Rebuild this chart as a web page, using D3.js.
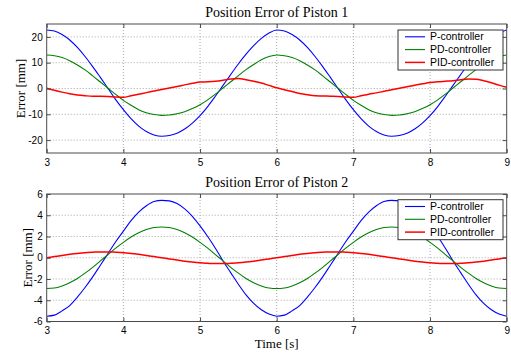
<!DOCTYPE html>
<html>
<head>
<meta charset="utf-8">
<script src="https://cdn.jsdelivr.net/npm/d3@7"></script>
<style>
  html, body { margin: 0; padding: 0; background: #fff; }
  svg { display: block; }
</style>
</head>
<body>
<svg id="chart" width="511" height="356"></svg>
<script>
// ---------- data ----------
const time = [3.0,3.1,3.2,3.3,3.4,3.5,3.6,3.7,3.8,3.9,4.0,4.1,4.2,4.3,4.4,4.5,4.6,4.7,4.8,4.9,5.0,5.1,5.2,5.3,5.4,5.5,5.6,5.7,5.8,5.9,6.0,6.1,6.2,6.3,6.4,6.5,6.6,6.7,6.8,6.9,7.0,7.1,7.2,7.3,7.4,7.5,7.6,7.7,7.8,7.9,8.0,8.1,8.2,8.3,8.4,8.5,8.6,8.7,8.8,8.9,9.0];

const seriesNames = ["P-controller", "PD-controller", "PID-controller"];

// Piston 1
const p1P = [22.7,22.3,20.9,18.8,15.9,12.4,8.5,4.3,0.0,-4.3,-8.2,-11.7,-14.6,-16.7,-18.0,-18.5,-18.2,-17.3,-15.7,-13.4,-10.5,-7.0,-3.0,1.2,5.4,9.5,13.3,16.6,19.4,21.5,22.7,
             22.3,20.9,18.8,15.9,12.4,8.5,4.3,0.0,-4.3,-8.2,-11.7,-14.6,-16.7,-18.0,-18.5,-18.2,-17.3,-15.7,-13.4,-10.5,-7.0,-3.0,1.2,5.4,9.5,13.3,16.6,19.4,21.5,22.7];
const p1PD = [13.0,12.7,12.0,10.8,9.1,7.2,4.9,2.5,0.1,-2.3,-4.6,-6.5,-8.2,-9.4,-10.1,-10.4,-10.3,-9.8,-9.0,-7.8,-6.3,-4.4,-2.2,0.2,2.6,5.0,7.3,9.3,11.1,12.4,13.0,
              12.7,12.0,10.8,9.1,7.2,4.9,2.5,0.1,-2.3,-4.6,-6.5,-8.2,-9.4,-10.1,-10.4,-10.3,-9.8,-9.0,-7.8,-6.3,-4.4,-2.2,0.2,2.6,5.0,7.3,9.3,11.1,12.4,13.0];
const p1PID = [0.1,-0.7,-1.4,-2.0,-2.5,-2.8,-3.0,-3.0,-3.1,-3.3,-3.4,-2.8,-2.2,-1.6,-1.0,-0.4,0.2,0.8,1.4,2.0,2.5,2.6,2.8,3.2,3.7,3.9,3.4,2.8,2.1,1.2,0.3,
               -0.5,-1.2,-1.9,-2.4,-2.8,-2.9,-3.0,-3.1,-3.3,-3.4,-2.8,-2.2,-1.7,-1.1,-0.5,0.1,0.7,1.3,1.8,2.3,2.6,2.8,3.0,3.4,3.7,3.6,3.0,2.2,1.3,0.5];

// Piston 2
const p2P = [-5.5,-5.4,-5.0,-4.5,-3.7,-2.8,-1.8,-0.7,0.4,1.5,2.5,3.5,4.3,4.9,5.3,5.4,5.35,5.1,4.6,3.9,3.0,2.0,0.9,-0.3,-1.4,-2.5,-3.5,-4.3,-4.9,-5.3,-5.5,
             -5.4,-5.0,-4.5,-3.7,-2.8,-1.8,-0.7,0.4,1.5,2.5,3.5,4.3,4.9,5.3,5.4,5.35,5.1,4.6,3.9,3.0,2.0,0.9,-0.3,-1.4,-2.5,-3.5,-4.3,-4.9,-5.3,-5.5];
const p2PD = [-2.9,-2.85,-2.65,-2.35,-1.95,-1.45,-0.9,-0.3,0.3,0.9,1.45,1.95,2.35,2.65,2.85,2.9,2.85,2.65,2.35,1.95,1.45,0.9,0.3,-0.3,-0.9,-1.45,-1.95,-2.35,-2.65,-2.85,-2.9,
              -2.85,-2.65,-2.35,-1.95,-1.45,-0.9,-0.3,0.3,0.9,1.45,1.95,2.35,2.65,2.85,2.9,2.85,2.65,2.35,1.95,1.45,0.9,0.3,-0.3,-0.9,-1.45,-1.95,-2.35,-2.65,-2.85,-2.9];
const p2PID = [0,0.11,0.22,0.32,0.41,0.48,0.52,0.55,0.55,0.52,0.48,0.41,0.32,0.22,0.11,0,-0.11,-0.22,-0.32,-0.41,-0.48,-0.52,-0.55,-0.55,-0.52,-0.48,-0.41,-0.32,-0.22,-0.11,0,
               0.11,0.22,0.32,0.41,0.48,0.52,0.55,0.55,0.52,0.48,0.41,0.32,0.22,0.11,0,-0.11,-0.22,-0.32,-0.41,-0.48,-0.52,-0.55,-0.55,-0.52,-0.48,-0.41,-0.32,-0.22,-0.11,0];

const xTicks = [3,4,5,6,7,8,9];
const yTicks1 = [-20,-10,0,10,20];
const yTicks2 = [-6,-4,-2,0,2,4,6];
const titles = ["Position Error of Piston 1", "Position Error of Piston 2"];
const yLabel = "Error [mm]";
const xLabel = "Time [s]";

// ---------- styles ----------
const colors = ["#0000ff", "#008000", "#ff0000"];
const widths = [1.1, 1.1, 1.5];
const frameColor = "#4a4a4a";
const gridColor = "#a8a8a8";
const sans = "'Liberation Sans', Arial, sans-serif";
const serif = "'Liberation Serif', 'Times New Roman', serif";

const svg = d3.select("#chart");
const xLeft = 46.7, xRight = 506.7;

const panels = [
  { top: 24, bottom: 153, domain: [-25, 25], ticks: yTicks1, title: titles[0], titleY: 17.3,
    ylabX: 25, series: [p1P, p1PD, p1PID], legendTop: 30 },
  { top: 194, bottom: 321.5, domain: [-6, 6], ticks: yTicks2, title: titles[1], titleY: 186.5,
    ylabX: 31.5, series: [p2P, p2PD, p2PID], legendTop: 199.7 }
];

const fmt = d => String(d);

panels.forEach((p, pi) => {
  const x = d3.scaleLinear().domain([3, 9]).range([xLeft, xRight]);
  const y = d3.scaleLinear().domain(p.domain).range([p.bottom, p.top]);
  const g = svg.append("g");

  // grid
  g.append("g").selectAll("line").data(xTicks.slice(1, -1)).join("line")
    .attr("x1", d => x(d)).attr("x2", d => x(d))
    .attr("y1", p.top).attr("y2", p.bottom)
    .attr("stroke", gridColor).attr("stroke-width", 1).attr("stroke-dasharray", "1,2");
  g.append("g").selectAll("line").data(p.ticks.filter(t => t > p.domain[0] && t < p.domain[1])).join("line")
    .attr("x1", xLeft).attr("x2", xRight)
    .attr("y1", d => y(d)).attr("y2", d => y(d))
    .attr("stroke", gridColor).attr("stroke-width", 1).attr("stroke-dasharray", "1,2");

  // clip
  const clipId = "clip" + pi;
  svg.append("clipPath").attr("id", clipId).append("rect")
    .attr("x", xLeft).attr("y", p.top).attr("width", xRight - xLeft).attr("height", p.bottom - p.top);

  // lines
  const line = d3.line().x((d, i) => x(time[i])).y(d => y(d)).curve(d3.curveMonotoneX);
  p.series.forEach((s, si) => {
    g.append("path").datum(s)
      .attr("clip-path", `url(#${clipId})`)
      .attr("fill", "none").attr("stroke", colors[si]).attr("stroke-width", widths[si])
      .attr("d", line);
  });

  // axes (ticks inward on all sides)
  const axB = g.append("g").attr("transform", `translate(0,${p.bottom})`)
    .call(d3.axisBottom(x).tickValues(xTicks).tickFormat(fmt).tickSize(-4).tickPadding(9));
  const axT = g.append("g").attr("transform", `translate(0,${p.top})`)
    .call(d3.axisTop(x).tickValues(xTicks).tickFormat("").tickSize(-4));
  const axL = g.append("g").attr("transform", `translate(${xLeft},0)`)
    .call(d3.axisLeft(y).tickValues(p.ticks).tickFormat(fmt).tickSize(-4).tickPadding(4));
  const axR = g.append("g").attr("transform", `translate(${xRight},0)`)
    .call(d3.axisRight(y).tickValues(p.ticks).tickFormat("").tickSize(-4));
  [axB, axT, axL, axR].forEach(a => {
    a.select(".domain").remove();
    a.selectAll(".tick line").attr("stroke", frameColor);
    a.selectAll("text").attr("fill", "#000").style("font-family", sans).style("font-size", "10px");
  });
  axB.selectAll("text").attr("dy", "0.35em");

  // frame
  g.append("rect").attr("x", xLeft).attr("y", p.top)
    .attr("width", xRight - xLeft).attr("height", p.bottom - p.top)
    .attr("fill", "none").attr("stroke", frameColor).attr("stroke-width", 1);

  // title
  svg.append("text").attr("x", (xLeft + xRight) / 2).attr("y", p.titleY)
    .attr("text-anchor", "middle").style("font-family", serif).style("font-size", "14px")
    .text(p.title);

  // y label
  svg.append("text")
    .attr("transform", `translate(${p.ylabX},${(p.top + p.bottom) / 2}) rotate(-90)`)
    .attr("text-anchor", "middle").style("font-family", serif).style("font-size", "13px")
    .text(yLabel);

  // legend
  const lx = 398, lw = 105, lh = 40;
  const lg = svg.append("g");
  lg.append("rect").attr("x", lx).attr("y", p.legendTop).attr("width", lw).attr("height", lh)
    .attr("fill", "#fff").attr("stroke", "#333").attr("stroke-width", 1);
  seriesNames.forEach((name, si) => {
    const cy = p.legendTop + 6.8 + si * 12.8;
    lg.append("line").attr("x1", lx + 7).attr("x2", lx + 27).attr("y1", cy).attr("y2", cy)
      .attr("stroke", colors[si]).attr("stroke-width", widths[si]);
    lg.append("text").attr("x", lx + 32).attr("y", cy).attr("dy", "0.35em")
      .style("font-family", sans).style("font-size", "10.5px").text(name);
  });
});

// x label
svg.append("text").attr("x", (xLeft + xRight) / 2).attr("y", 348)
  .attr("text-anchor", "middle").style("font-family", serif).style("font-size", "13px")
  .text(xLabel);
</script>
</body>
</html>
